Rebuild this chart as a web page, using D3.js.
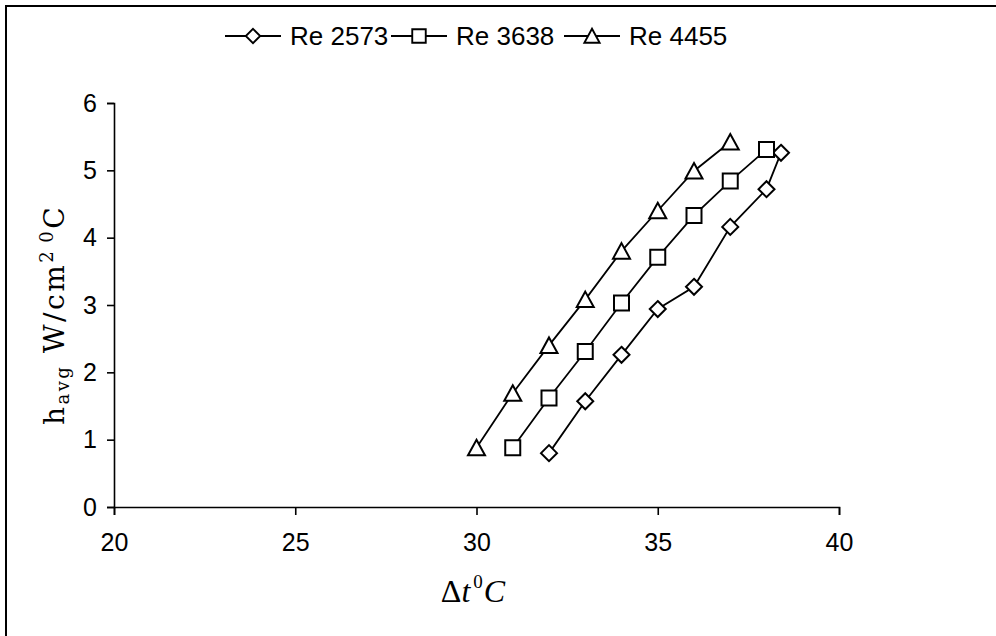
<!DOCTYPE html>
<html>
<head>
<meta charset="utf-8">
<script src="https://cdn.jsdelivr.net/npm/d3@7"></script>
<style>
  body { margin: 0; background: #fff; }
  text { fill: #000; }
</style>
</head>
<body>
<script>
// values
const dtDiamond = [32, 33, 34, 35, 36, 37, 38, 38.4];
const hRe2573 = [0.80, 1.57, 2.26, 2.94, 3.27, 4.16, 4.72, 5.26];

const dtSquare = [31, 32, 33, 34, 35, 36, 37, 38];
const hRe3638 = [0.88, 1.62, 2.31, 3.03, 3.71, 4.33, 4.84, 5.31];

const dtTriangle = [30, 31, 32, 33, 34, 35, 36, 37];
const hRe4455 = [0.88, 1.69, 2.40, 3.08, 3.80, 4.40, 4.99, 5.42];

const seriesNames = ["Re 2573", "Re 3638", "Re 4455"];
const xTicks = [20, 25, 30, 35, 40];
const yTicks = [0, 1, 2, 3, 4, 5, 6];

const width = 996, height = 636;
const plotL = 114, plotR = 839, plotT = 103, plotB = 507;
const sans = "Liberation Sans, Arial, sans-serif";

const x = d3.scaleLinear().domain([20, 40]).range([plotL, plotR]);
const y = d3.scaleLinear().domain([0, 6]).range([plotB, plotT]);

const svg = d3.select("body").append("svg")
  .attr("width", width)
  .attr("height", height);

// outer frame (runs off the right and bottom edges)
svg.append("rect")
  .attr("x", 6).attr("y", 6)
  .attr("width", 1000).attr("height", 700)
  .attr("fill", "none").attr("stroke", "#000").attr("stroke-width", 2);

const series = [
  { name: seriesNames[0], xs: dtDiamond, ys: hRe2573, shape: "diamond" },
  { name: seriesNames[1], xs: dtSquare, ys: hRe3638, shape: "square" },
  { name: seriesNames[2], xs: dtTriangle, ys: hRe4455, shape: "triangle" }
];

function markerPath(shape) {
  if (shape === "diamond") return "M0,-8L8,0L0,8L-8,0Z";
  if (shape === "square") return "M-7.5,-7.5L7.5,-7.5L7.5,7.5L-7.5,7.5Z";
  return "M0,-8L8.5,7.5L-8.5,7.5Z";
}

// axes
const xAxis = svg.append("g")
  .attr("transform", `translate(0,${plotB})`)
  .call(d3.axisBottom(x).tickValues(xTicks).tickFormat(d3.format("d"))
    .tickSize(8).tickPadding(18));
const yAxis = svg.append("g")
  .attr("transform", `translate(${plotL},0)`)
  .call(d3.axisLeft(y).tickValues(yTicks).tickFormat(d3.format("d"))
    .tickSize(7).tickPadding(10));

[xAxis, yAxis].forEach(g => {
  g.select(".domain").attr("stroke", "#000").attr("stroke-width", 1.6);
  g.selectAll(".tick line").attr("stroke", "#000").attr("stroke-width", 1.6);
  g.selectAll(".tick text")
    .attr("font-family", sans)
    .attr("font-size", 25)
    .attr("fill", "#000");
});

// series
const line = d3.line().x(d => x(d[0])).y(d => y(d[1]));

series.forEach(s => {
  const pts = s.xs.map((v, i) => [v, s.ys[i]]);
  svg.append("path")
    .datum(pts)
    .attr("d", line)
    .attr("fill", "none")
    .attr("stroke", "#000")
    .attr("stroke-width", 1.8);
  svg.append("g").selectAll("path")
    .data(pts)
    .enter().append("path")
    .attr("transform", d => `translate(${x(d[0])},${y(d[1])})`)
    .attr("d", markerPath(s.shape))
    .attr("fill", "#fff")
    .attr("stroke", "#000")
    .attr("stroke-width", 2);
});

// legend
const legendX = [225, 391, 564];
const legend = svg.append("g");
series.forEach((s, i) => {
  const g = legend.append("g").attr("transform", `translate(${legendX[i]},36)`);
  g.append("line")
    .attr("x1", 0).attr("x2", 56)
    .attr("stroke", "#000").attr("stroke-width", 1.8);
  g.append("path")
    .attr("transform", "translate(28,0) scale(0.9)")
    .attr("d", markerPath(s.shape))
    .attr("fill", "#fff").attr("stroke", "#000").attr("stroke-width", 2.1);
  g.append("text")
    .attr("x", 65).attr("y", 9)
    .attr("font-family", sans)
    .attr("font-size", 26)
    .text(s.name);
});

// y axis title
const yt = svg.append("text")
  .attr("transform", "translate(64,315) rotate(-90)")
  .attr("text-anchor", "middle")
  .attr("font-family", "DejaVu Serif, serif")
  .attr("font-size", 28)
  .attr("letter-spacing", 2.5);
yt.append("tspan").text("h");
yt.append("tspan").attr("font-size", 18).attr("dy", 5).text("avg");
yt.append("tspan").attr("dy", -5).text(" W/cm");
yt.append("tspan").attr("font-size", 18).attr("dy", -11).text("2");
yt.append("tspan").attr("font-size", 18).attr("dx", 6).text("0");
yt.append("tspan").attr("dy", 11).text("C");

// x axis title
const xt = svg.append("text")
  .attr("x", 473).attr("y", 602)
  .attr("text-anchor", "middle")
  .attr("font-family", "Liberation Serif, Times New Roman, serif")
  .attr("font-size", 32);
xt.append("tspan").text("\u0394");
xt.append("tspan").attr("font-style", "italic").text("t");
xt.append("tspan").attr("font-size", 19).attr("dy", -14).attr("dx", 3).text("0");
xt.append("tspan").attr("font-style", "italic").attr("dy", 14).attr("dx", 1).text("C");
</script>
</body>
</html>
